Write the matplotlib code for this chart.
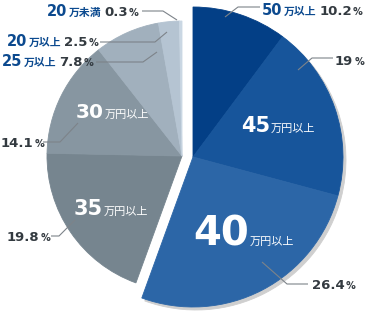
import matplotlib
matplotlib.use('Agg')
import matplotlib.pyplot as plt

# ── data ──
labels = ['50万以上', '45万円以上', '40万円以上', '35万円以上',
          '30万円以上', '25万以上', '20万以上', '20万未満']
values = [10.2, 19, 26.4, 19.8, 14.1, 7.8, 2.5, 0.3]
pct_text = ['10.2', '19', '26.4', '19.8', '14.1', '7.8', '2.5', '0.3']
colors = ['#033f86', '#17559b', '#2c66a7', '#76858f',
          '#8796a1', '#a1b0bd', '#b5c4d2', '#cad7e3']
is_blue = [True, True, True, False, False, False, False, False]

W, H = 365, 315
FAM = ['DejaVu Sans', 'Noto Sans CJK JP']
BLUE_TXT = '#0c4a8f'
NUM_TXT = '#333a40'
LINE = '#7d8389'

fig = plt.figure(figsize=(W / 100, H / 100), dpi=100)
ax = fig.add_axes([0, 0, 1, 1])


def draw_pie(center, radius, show, cols, z):
    wedges, _ = ax.pie(values, colors=cols, startangle=90, counterclock=False,
                       center=center, radius=radius,
                       wedgeprops=dict(linewidth=0.6))
    for w, s, c in zip(wedges, show, cols):
        w.set_visible(s)
        w.set_edgecolor(c)
        w.set_zorder(z)


# shadow under the pulled-out blue group
draw_pie((196, H - 160), 150, is_blue, ['#cfcfcf'] * len(values), 1)
# blue group (pulled out, bigger)
draw_pie((193, H - 157), 150, is_blue, colors, 2)
# grey group
draw_pie((182, H - 156), 135, [not b for b in is_blue], colors, 2)

ax.set_xlim(0, W)
ax.set_ylim(0, H)
ax.axis('off')

renderer = fig.canvas.get_renderer()


def rich(x, y, parts):
    """parts: (text, size, color, weight, gap) drawn left to right on one baseline"""
    cx = x
    for txt, size, color, weight, gap in parts:
        cx += gap
        t = ax.text(cx, H - y, txt, fontsize=size, color=color, fontweight=weight,
                    family=FAM, ha='left', va='baseline', zorder=5)
        cx += t.get_window_extent(renderer).width


def leader(xs, ys):
    ax.plot(xs, [H - v for v in ys], color=LINE, lw=0.8, zorder=4,
            solid_capstyle='butt')


# ── labels inside slices ──
def inner(x, y, idx, big):
    num = labels[idx][:2]
    rest = labels[idx][2:]
    rich(x, y, [(num, big, 'white', 'bold', 0),
                (rest, 8, 'white', 'normal', 1)])


inner(76, 118, 4, 14.5)
inner(74, 215, 3, 15)
inner(241, 132, 1, 15)
inner(193, 245, 2, 29)


# ── outside labels ──
def outer(x, y, idx, with_name=True):
    parts = []
    gap = 0
    if with_name:
        parts.append((labels[idx][:2], 10.5, BLUE_TXT, 'bold', 0))
        parts.append((labels[idx][2:], 7.8, BLUE_TXT, 'bold', 1))
        gap = 3
    parts.append((pct_text[idx], 9.5, NUM_TXT, 'bold', gap))
    parts.append(('%', 7, NUM_TXT, 'bold', 1))
    rich(x, y, parts)


outer(262, 15, 0)
leader([260, 238, 225], [7, 7, 17])

outer(335, 65, 1, with_name=False)
leader([333, 312, 298], [58, 58, 70])

outer(312, 289, 2, with_name=False)
leader([308, 287, 262], [284, 284, 262])

outer(7, 241, 3, with_name=False)
leader([51, 59, 75], [236, 236, 220])

outer(1, 147, 4, with_name=False)
leader([43, 60, 78], [142, 142, 123])

outer(2, 66, 5)
leader([96, 143, 157], [62, 62, 52])

outer(7, 46, 6)
leader([100, 155, 167], [42, 42, 32])

outer(47, 16, 7)
leader([142, 163, 177], [11, 11, 20])

plt.savefig('out.png', dpi=100)
plt.close()
